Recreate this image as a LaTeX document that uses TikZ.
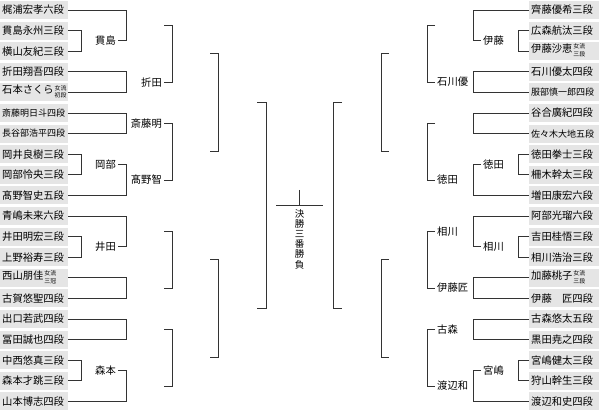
\documentclass[tikz,border=0pt]{standalone}
\usepackage{fontspec}
\setmainfont{Noto Sans CJK JP}
\usetikzlibrary{calc}
\newcommand{\sq}{\fontsize{9}{9}\selectfont}
\newcommand{\twoln}[2]{\hspace{1pt}{\fontsize{5.9}{7.8}\selectfont\begin{tabular}[c]{@{}c@{}}#1\\#2\end{tabular}}}

\begin{document}
\begin{tikzpicture}[
    x=1pt, y=-1pt,
    player/.style={fill=black!10, anchor=west, minimum height=18pt, inner ysep=0pt, inner xsep=2pt, font=\fontsize{10.3}{10.3}\selectfont},
    winl/.style={anchor=east, inner xsep=2pt, inner ysep=0pt, font=\fontsize{10.3}{10.3}\selectfont},
    winr/.style={anchor=west, inner xsep=2pt, inner ysep=0pt, font=\fontsize{10.3}{10.3}\selectfont},
    ln/.style={draw=black!80, line width=0.9pt}
]
    \useasboundingbox (0,0) rectangle (599,411);

    % left block
    \foreach \n [count=\i] in {梶浦宏孝六段, 貫島永州三段, 横山友紀三段, 折田翔吾四段, {石本さくら\twoln{女流}{初段}},
        {\sq 斎藤明日斗四段}, {\sq 長谷部浩平四段}, 岡井良樹三段, 岡部怜央三段, 髙野智史五段,
        青嶋未来六段, 井田明宏三段, 上野裕寿三段, {西山朋佳\twoln{女流}{三冠}}, 古賀悠聖四段,
        出口若武四段, 冨田誠也四段, 中西悠真三段, 森本才跳三段, 山本博志四段}
        \node[player] (l\i) at (0,{10+20.6*(\i-1)}) {\makebox[64pt][l]{\n}};

    % right block
    \foreach \n [count=\i] in {齊藤優希三段, 広森航汰三段, {伊藤沙恵\twoln{女流}{三段}}, 石川優太四段, {\sq 服部慎一郎四段},
        谷合廣紀四段, {\sq 佐々木大地五段}, 徳田拳士三段, 柵木幹太三段, 増田康宏六段,
        阿部光瑠六段, 吉田桂悟三段, 相川浩治三段, {加藤桃子\twoln{女流}{三段}}, 伊藤　匠四段,
        古森悠太五段, 黒田尭之四段, 宮嶋健太三段, 狩山幹生三段, 渡辺和史四段}
        \node[player] (r\i) at (529,{10+20.6*(\i-1)}) {\makebox[66pt][l]{\n}};

    % left, first round
    \draw[ln] (l2.east) -| ([xshift=13pt]l3.east) -- (l3.east);
    \draw[ln] (l8.east) -| ([xshift=13pt]l9.east) -- (l9.east);
    \draw[ln] (l12.east) -| ([xshift=13pt]l13.east) -- (l13.east);
    \draw[ln] (l18.east) -| ([xshift=13pt]l19.east) -- (l19.east);
    \node[winl] (kanjima) at (118,40.9) {貫島};
    \node[winl] (okabe) at (118,164.5) {岡部};
    \node[winl] (ida) at (118,246.9) {井田};
    \node[winl] (morimoto) at (118,370.5) {森本};

    % left, second round
    \draw[ln] (l1.east) -| ([xshift=8pt]kanjima.east) -- (kanjima.east);
    \draw[ln] (l4.east) -| ([xshift=58pt]l5.east) -- (l5.east);
    \draw[ln] (l6.east) -| ([xshift=58pt]l7.east) -- (l7.east);
    \draw[ln] (okabe.east) -| ([xshift=58pt]l10.east) -- (l10.east);
    \draw[ln] (l11.east) -| ([xshift=8pt]ida.east) -- (ida.east);
    \draw[ln] (l14.east) -| ([xshift=58pt]l15.east) -- (l15.east);
    \draw[ln] (l16.east) -| ([xshift=58pt]l17.east) -- (l17.east);
    \draw[ln] (morimoto.east) -| ([xshift=58pt]l20.east) -- (l20.east);
    \coordinate (la1) at (164,25.3);
    \node[winl] (orita) at (164,82.1) {折田};
    \node[winl] (saitoa) at (164,123.3) {斎藤明};
    \node[winl] (takano) at (164,180) {髙野智};
    \coordinate (la5) at (164,231.3);
    \coordinate (la6) at (164,288.1);
    \coordinate (la7) at (164,329.3);
    \coordinate (la8) at (164,386);

    % left, third round and on
    \draw[ln] (la1) -| ([xshift=8pt]orita.east) -- (orita.east);
    \draw[ln] (saitoa.east) -| ([xshift=8pt]takano.east) -- (takano.east);
    \draw[ln] (la5) -| ([xshift=8pt]la6) -- (la6);
    \draw[ln] (la7) -| ([xshift=8pt]la8) -- (la8);
    \coordinate (lb1) at (210,53.7);
    \coordinate (lb2) at (210,151.6);
    \coordinate (lb3) at (210,259.7);
    \coordinate (lb4) at (210,357.6);
    \draw[ln] (lb1) -| ([xshift=8pt]lb2) -- (lb2);
    \draw[ln] (lb3) -| ([xshift=8pt]lb4) -- (lb4);
    \coordinate (lc1) at (257,102.7);
    \coordinate (lc2) at (257,308.7);
    \draw[ln] (lc1) -| ([xshift=9pt]lc2) -- (lc2);

    % right, first round
    \draw[ln] (r2.west) -| ([xshift=-11pt]r3.west) -- (r3.west);
    \draw[ln] (r8.west) -| ([xshift=-11pt]r9.west) -- (r9.west);
    \draw[ln] (r12.west) -| ([xshift=-11pt]r13.west) -- (r13.west);
    \draw[ln] (r18.west) -| ([xshift=-11pt]r19.west) -- (r19.west);
    \node[winr] (ito) at (481,40.9) {伊藤};
    \node[winr] (tokuda1) at (481,164.5) {徳田};
    \node[winr] (aikawa1) at (481,246.9) {相川};
    \node[winr] (miyajima) at (481,370.5) {宮嶋};

    % right, second round
    \draw[ln] (r1.west) -| ([xshift=-8pt]ito.west) -- (ito.west);
    \draw[ln] (r4.west) -| ([xshift=-56pt]r5.west) -- (r5.west);
    \draw[ln] (r6.west) -| ([xshift=-56pt]r7.west) -- (r7.west);
    \draw[ln] (tokuda1.west) -| ([xshift=-56pt]r10.west) -- (r10.west);
    \draw[ln] (r11.west) -| ([xshift=-8pt]aikawa1.west) -- (aikawa1.west);
    \draw[ln] (r14.west) -| ([xshift=-56pt]r15.west) -- (r15.west);
    \draw[ln] (r16.west) -| ([xshift=-56pt]r17.west) -- (r17.west);
    \draw[ln] (miyajima.west) -| ([xshift=-56pt]r20.west) -- (r20.west);
    \coordinate (ra1) at (435,25.3);
    \node[winr] (ishikawa) at (435,82.1) {石川優};
    \coordinate (ra3) at (435,123.3);
    \node[winr] (tokuda2) at (435,180) {徳田};
    \node[winr] (aikawa2) at (435,231.3) {相川};
    \node[winr] (itotakumi) at (435,288.1) {伊藤匠};
    \node[winr] (komori) at (435,329.3) {古森};
    \node[winr] (watanabe) at (435,386) {渡辺和};

    % right, third round and on
    \draw[ln] (ra1) -| ([xshift=-8pt]ishikawa.west) -- (ishikawa.west);
    \draw[ln] (ra3) -| ([xshift=-8pt]tokuda2.west) -- (tokuda2.west);
    \draw[ln] (aikawa2.west) -| ([xshift=-8pt]itotakumi.west) -- (itotakumi.west);
    \draw[ln] (komori.west) -| ([xshift=-8pt]watanabe.west) -- (watanabe.west);
    \coordinate (rb1) at (389,53.7);
    \coordinate (rb2) at (389,151.6);
    \coordinate (rb3) at (389,259.7);
    \coordinate (rb4) at (389,357.6);
    \draw[ln] (rb1) -| ([xshift=-8pt]rb2) -- (rb2);
    \draw[ln] (rb3) -| ([xshift=-8pt]rb4) -- (rb4);
    \coordinate (rc1) at (342,102.7);
    \coordinate (rc2) at (342,308.7);
    \draw[ln] (rc1) -| ([xshift=-9pt]rc2) -- (rc2);

    % final
    \coordinate (fl) at (276,205.7);
    \coordinate (fr) at (323,205.7);
    \coordinate (champ) at (299.5,190);
    \draw[ln] (fl) -- (fr);
    \draw[ln] (champ) -- (champ |- fl);
    \node[anchor=north, align=center, inner sep=0pt, font=\fontsize{9.5}{10.2}\selectfont] (kessho) at (299.5,209) {決\\勝\\三\\番\\勝\\負};
\end{tikzpicture}
\end{document}
